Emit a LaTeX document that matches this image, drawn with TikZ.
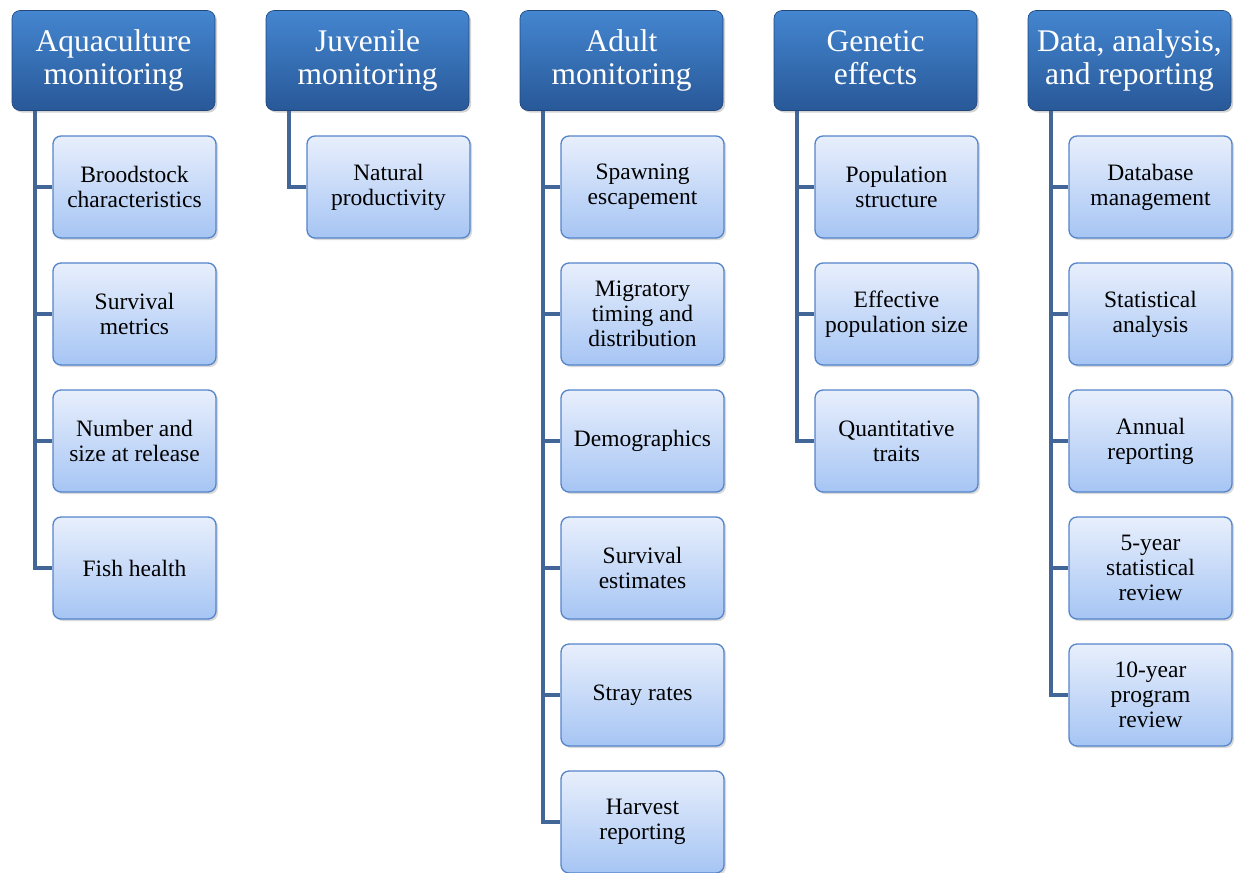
\documentclass[tikz,border=0pt]{standalone}
\usepackage{fontspec}
\setmainfont{Liberation Serif}
\usetikzlibrary{shadows}
\definecolor{hdtop}{RGB}{68,134,208}
\definecolor{hdbot}{RGB}{40,88,152}
\definecolor{chtop}{RGB}{232,239,252}
\definecolor{chbot}{RGB}{166,197,244}
\definecolor{chdraw}{RGB}{84,132,202}
\definecolor{conn}{RGB}{66,102,152}
\tikzset{
  hdbox/.style={rectangle, rounded corners=8pt, minimum width=203pt, minimum height=100pt,
    top color=hdtop, bottom color=hdbot, draw=hdbot!80!black, line width=0.6pt, text=white,
    align=center, font=\fontsize{31.5}{33}\selectfont, inner sep=1pt,
    drop shadow={shadow xshift=2pt, shadow yshift=-2pt, opacity=0.35}},
  chbox/.style={rectangle, rounded corners=8pt, minimum width=163pt, minimum height=102pt,
    top color=chtop, bottom color=chbot, draw=chdraw, line width=1.3pt, text=black,
    align=center, font=\fontsize{23.5}{25}\selectfont, inner sep=1pt,
    drop shadow={shadow xshift=2pt, shadow yshift=-2pt, opacity=0.3}},
  link/.style={draw=conn, line width=4pt}
}
\begin{document}
\begin{tikzpicture}[x=1pt,y=-1pt]
\useasboundingbox (0,0) rectangle (1235,873);
% headers
\node[hdbox] (h1) at (113.5,60.5) {Aquaculture\\monitoring};
\node[hdbox] (h2) at (367.5,60.5) {Juvenile\\monitoring};
\node[hdbox] (h3) at (621.5,60.5) {Adult\\monitoring};
\node[hdbox] (h4) at (875.5,60.5) {Genetic\vphantom{l}\\effects\vphantom{g}};
\node[hdbox] (h5) at (1129.5,60.5) {Data, analysis,\\and reporting};
% column 1
\node[chbox] (a1) at (134.5,187) {Broodstock\\characteristics};
\node[chbox] (a2) at (134.5,314) {Survival\\metrics};
\node[chbox] (a3) at (134.5,441) {Number and\\size at release};
\node[chbox] (a4) at (134.5,568) {Fish health};
% column 2
\node[chbox] (b1) at (388.5,187) {Natural\\productivity};
% column 3
\node[chbox] (c1) at (642.5,187) {Spawning\\escapement};
\node[chbox] (c2) at (642.5,314) {Migratory\\timing and\\distribution};
\node[chbox] (c3) at (642.5,441) {Demographics};
\node[chbox] (c4) at (642.5,568) {Survival\\estimates};
\node[chbox] (c5) at (642.5,695) {Stray rates};
\node[chbox] (c6) at (642.5,822) {Harvest\\reporting};
% column 4
\node[chbox] (d1) at (896.5,187) {Population\\structure};
\node[chbox] (d2) at (896.5,314) {Effective\\population size};
\node[chbox] (d3) at (896.5,441) {Quantitative\\traits};
% column 5
\node[chbox] (e1) at (1150.5,187) {Database\\management};
\node[chbox] (e2) at (1150.5,314) {Statistical\\analysis};
\node[chbox] (e3) at (1150.5,441) {Annual\\reporting};
\node[chbox] (e4) at (1150.5,568) {5-year\\statistical\\review};
\node[chbox] (e5) at (1150.5,695) {10-year\\program\\review};
% connectors
\foreach \h/\list in {h1/{a1,a2,a3,a4}, h2/{b1}, h3/{c1,c2,c3,c4,c5,c6}, h4/{d1,d2,d3}, h5/{e1,e2,e3,e4,e5}}{
  \foreach \c in \list {
    \draw[link] ([xshift=23pt]\h.south west) |- (\c.west);
  }
}
\end{tikzpicture}
\end{document}
